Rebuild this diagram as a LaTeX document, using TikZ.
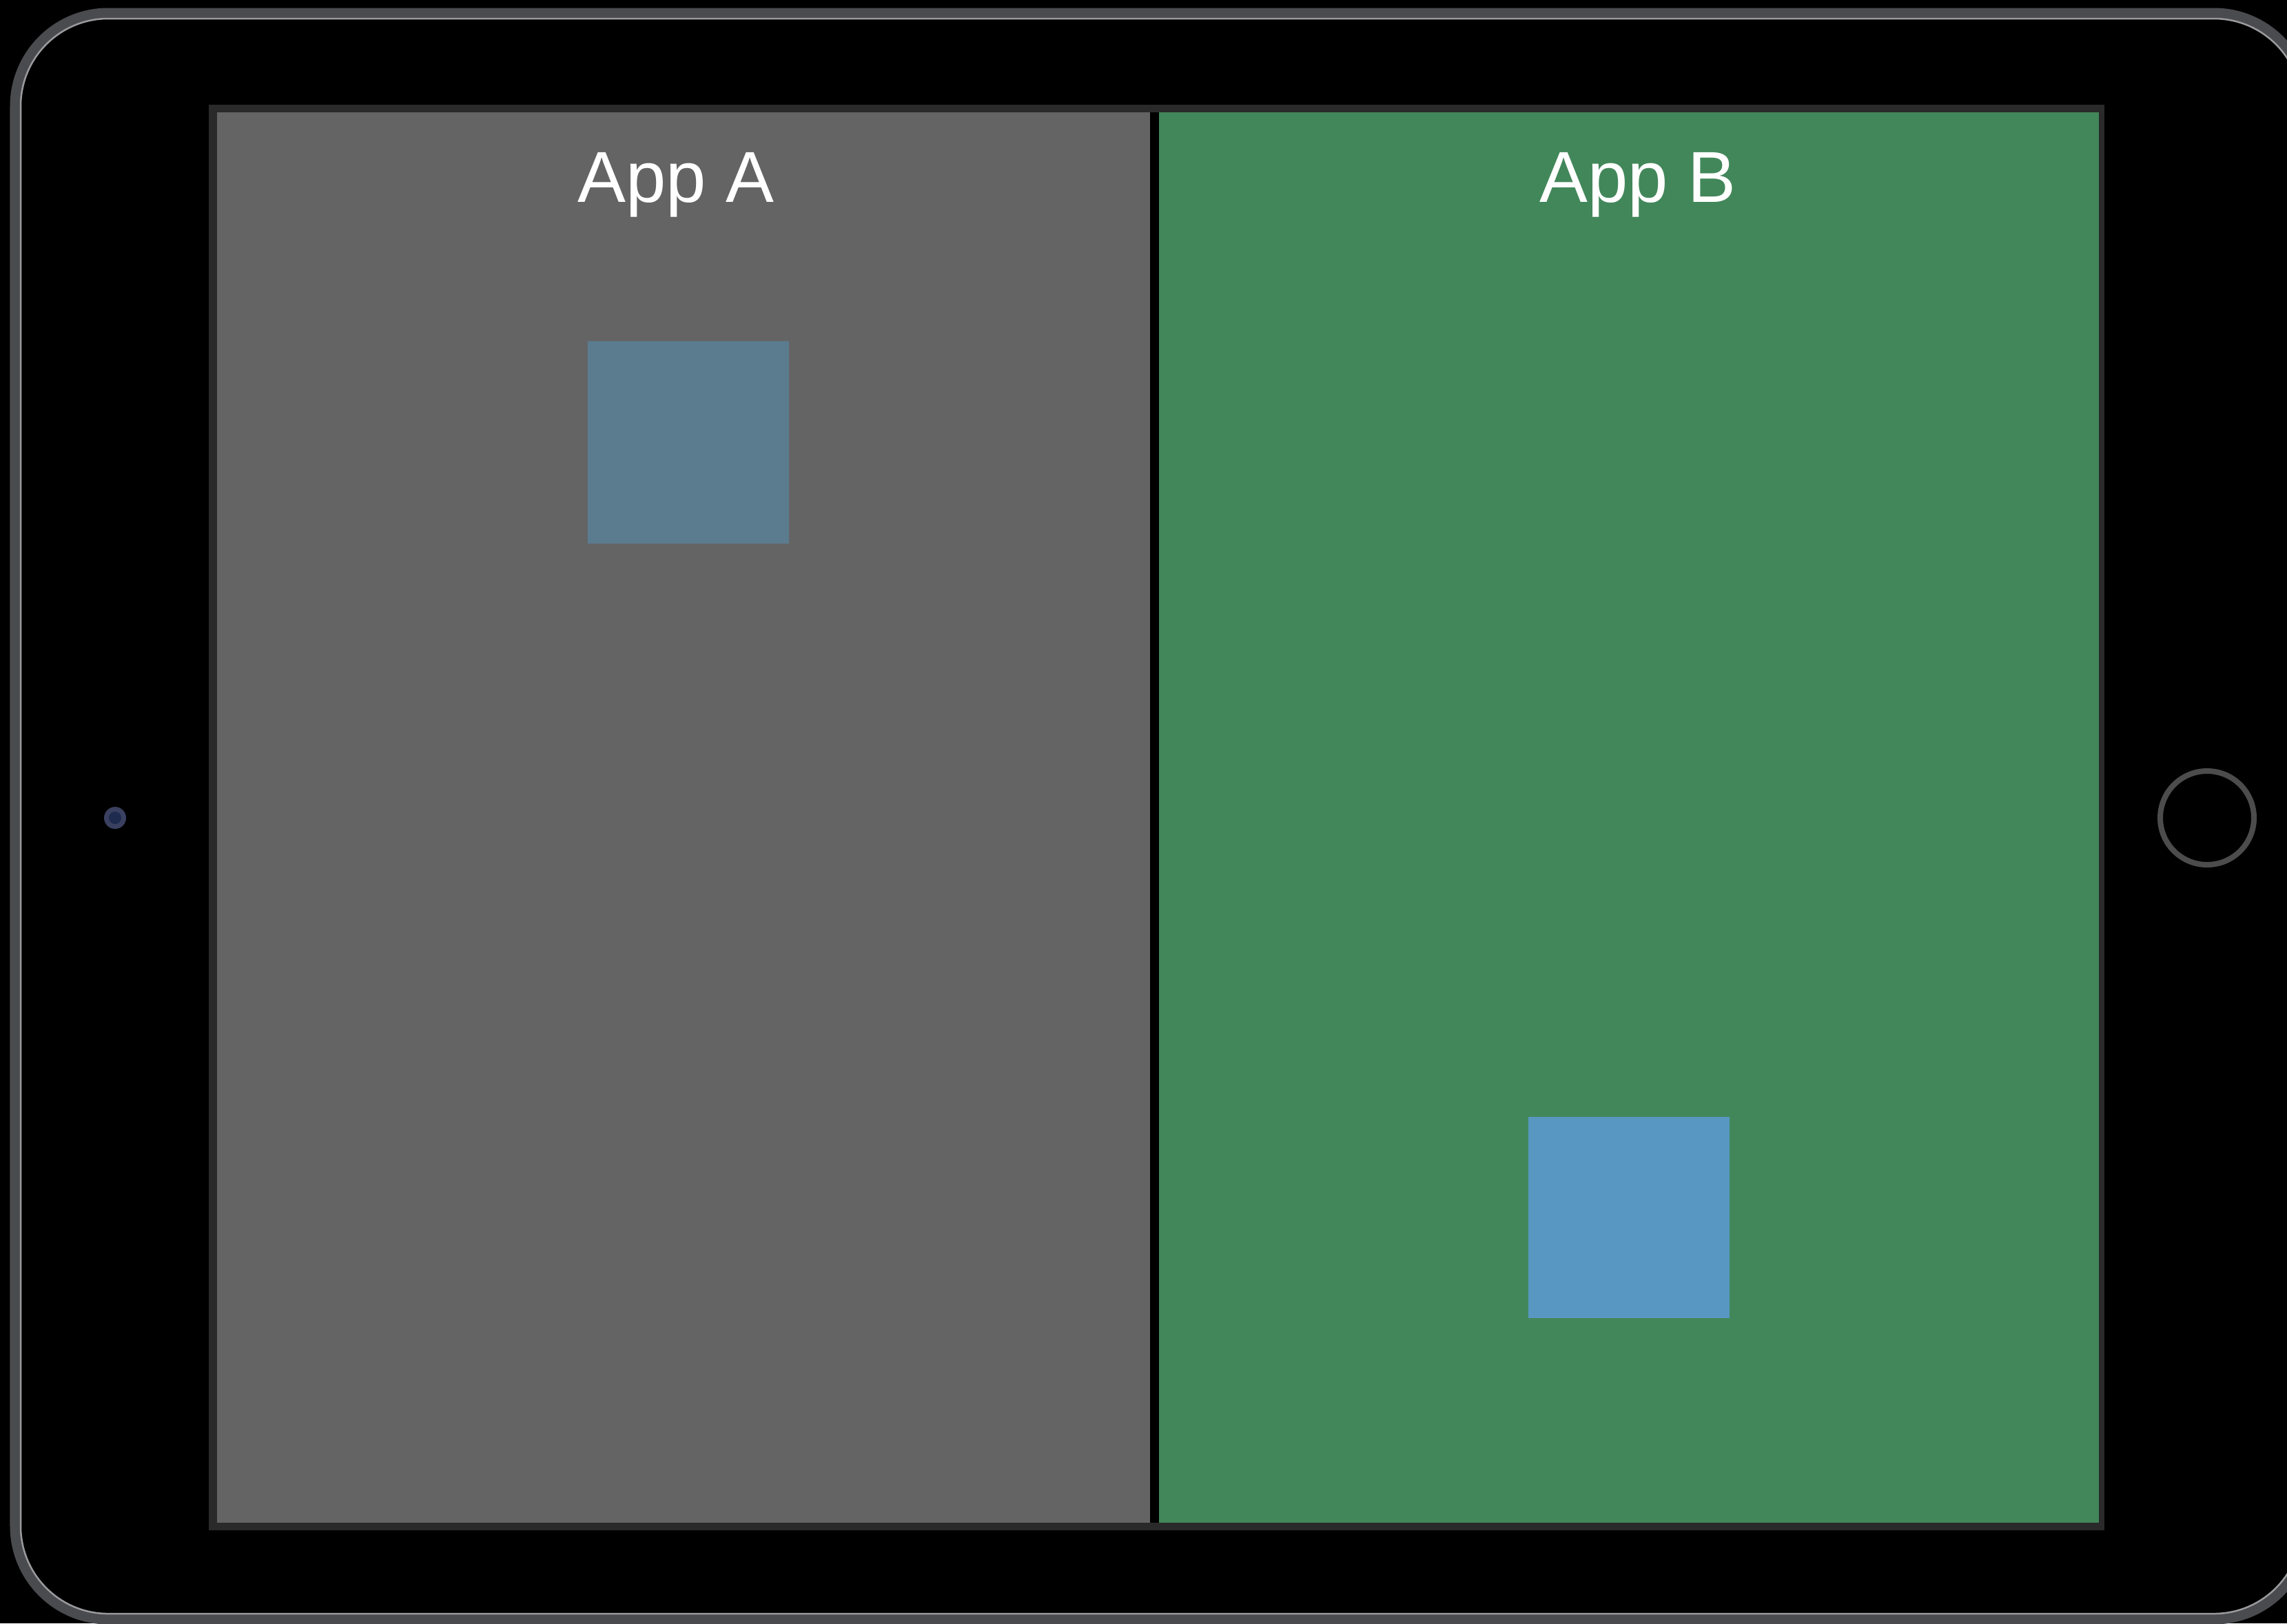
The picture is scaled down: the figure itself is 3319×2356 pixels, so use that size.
\documentclass[tikz,border=0pt]{standalone}
\usepackage{fontspec}
\setmainfont{Liberation Sans}
\definecolor{bezel}{HTML}{2A2A2A}
\definecolor{panelA}{HTML}{646464}
\definecolor{panelB}{HTML}{42875A}
\definecolor{boxA}{HTML}{5B7B8F}
\definecolor{boxB}{HTML}{5797C1}
\definecolor{rim}{HTML}{4A4B4F}
\definecolor{rimhi}{HTML}{9A9A9E}
\definecolor{cam}{HTML}{1E2A4E}
\definecolor{camring}{HTML}{3A4060}
\definecolor{homering}{HTML}{4C4C4C}
\begin{document}
\begin{tikzpicture}[x=0.01cm,y=-0.01cm,
  apptitle/.style={text=white,font=\fontsize{29.8pt}{34pt}\selectfont,anchor=base,inner sep=0pt}]
\fill[black] (0,0) rectangle (3319,2356);
\useasboundingbox (0,0) rectangle (3319,2356);
% device rim
\draw[rim,line width=0.15cm,rounded corners=1.35cm] (22,19) rectangle (3348,2350);
\draw[rimhi,line width=0.025cm,rounded corners=1.27cm] (30,27) rectangle (3340,2342);
% screen
\fill[bezel] (303,152) rectangle (3054,2221);
\fill[panelA] (315,163) rectangle (1669,2210);
\fill[black] (1669,163) rectangle (1682,2210);
\fill[panelB] (1682,163) rectangle (3046,2210);
% squares
\fill[boxA] (853,495) rectangle (1145,789);
\fill[boxB] (2218,1621) rectangle (2510,1913);
% titles
\node[apptitle] (titleA) at (981,293) {App A};
\node[apptitle] (titleB) at (2377,293) {App B};
% camera and home button
\fill[camring] (167,1187) circle (16);
\fill[cam] (167,1187) circle (9);
\draw[homering,line width=0.08cm] (3203,1187) circle (68);
\end{tikzpicture}
\end{document}
